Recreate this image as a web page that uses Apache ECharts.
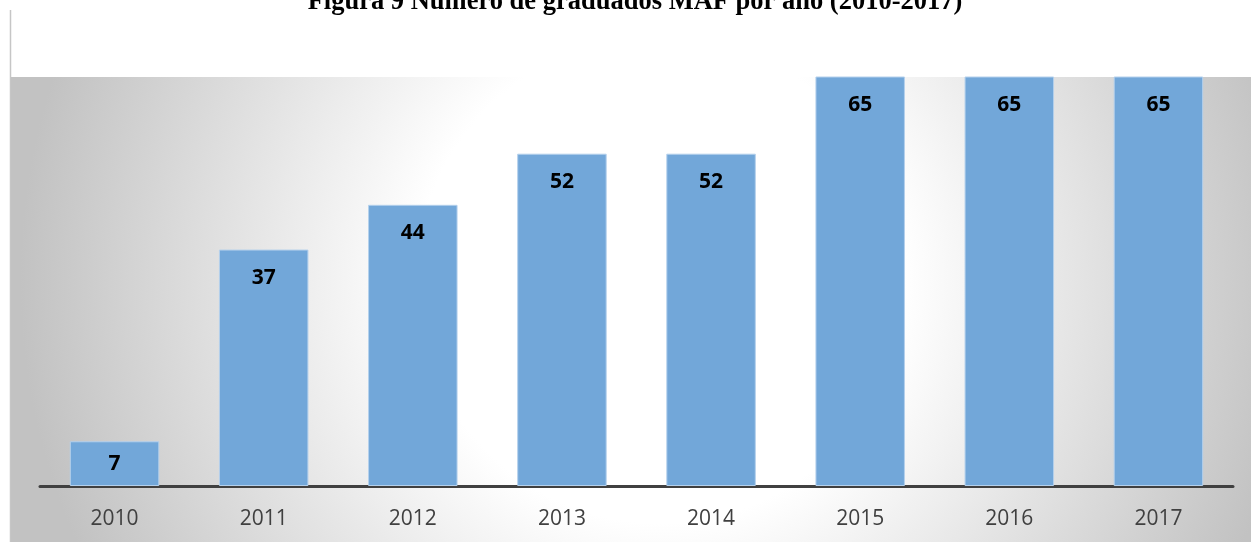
<!DOCTYPE html>
<html>
<head>
<meta charset="utf-8">
<script src="https://cdn.jsdelivr.net/npm/echarts@6/dist/echarts.min.js"></script>
<style>
  html, body { margin: 0; padding: 0; background: #fff; }
  #myChart { width: 1251px; height: 542px; }
</style>
</head>
<body>
<div id="myChart"></div>
<script>
// datos de la figura
const titulo = 'Figura 9 Número de graduados MAF por año (2010-2017)';
const years = ['2010', '2011', '2012', '2013', '2014', '2015', '2016', '2017'];
const graduados = [7, 37, 44, 52, 52, 65, 65, 65];
const yMax = 64;

let myChart = echarts.init(document.getElementById('myChart'));

// etiquetas: barras bajas van centradas
const barData = graduados.map(function (v) {
  return v < 15 ? { value: v, label: { position: 'inside' } } : v;
});

const opt = {
  animation: false,
  title: {
    text: titulo,
    left: 630,
    top: -16,
    textAlign: 'center',
    textStyle: {
      fontFamily: 'Liberation Serif',
      fontWeight: 'bold',
      fontSize: 26.5,
      color: '#000'
    }
  },
  graphic: [
    {
      type: 'line',
      z: -10,
      shape: { x1: 10.5, y1: 10, x2: 10.5, y2: 542 },
      style: { stroke: '#c6c6c6', lineWidth: 1.5 }
    },
    {
      type: 'rect',
      z: -10,
      shape: { x: 11, y: 77, width: 1240, height: 465 },
      style: {
        fill: new echarts.graphic.RadialGradient(660, 280, 640, [
          { offset: 0, color: '#ffffff' },
          { offset: 0.38, color: '#ffffff' },
          { offset: 1, color: '#c2c2c2' }
        ], true)
      }
    }
  ],
  grid: {
    left: 40,
    right: 18,
    top: 77,
    bottom: 56
  },
  xAxis: {
    type: 'category',
    data: years,
    axisLine: { lineStyle: { color: '#404040', width: 3 } },
    axisTick: { show: false },
    axisLabel: {
      margin: 23,
      fontFamily: 'Open Sans',
      fontSize: 21,
      color: '#404040'
    }
  },
  yAxis: {
    type: 'value',
    min: 0,
    max: yMax,
    show: false,
    splitLine: { show: false }
  },
  series: [
    {
      name: 'Graduados',
      type: 'bar',
      barWidth: '60%',
      clip: true,
      data: barData,
      itemStyle: {
        color: '#72a7d9',
        borderColor: '#b4d0ec',
        borderWidth: 1
      },
      label: {
        show: true,
        position: 'insideTop',
        distance: 18,
        fontFamily: 'Open Sans',
        fontWeight: 'bold',
        fontSize: 21,
        color: '#000'
      }
    }
  ]
};

myChart.setOption(opt);
</script>
</body>
</html>
